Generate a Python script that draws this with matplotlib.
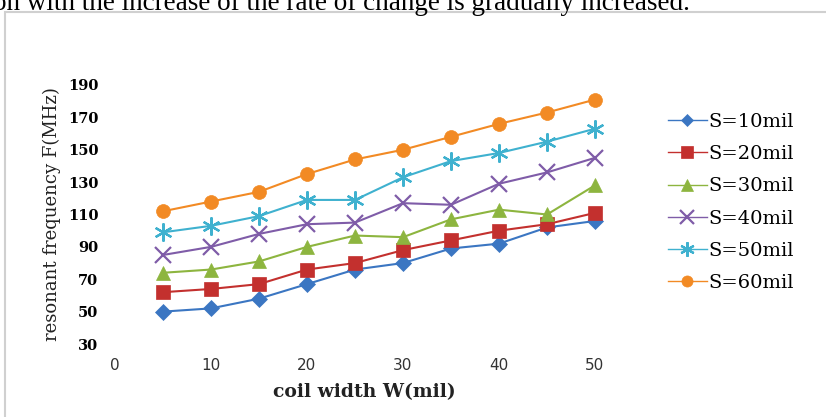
import matplotlib
matplotlib.use("Agg")
from matplotlib import pyplot as plt
from matplotlib.patches import Rectangle

width = [5, 10, 15, 20, 25, 30, 35, 40, 45, 50]

s10 = [50, 52, 58, 67, 76, 80, 89, 92, 102, 106]
s20 = [62, 64, 67, 76, 80, 88, 94, 100, 104, 111]
s30 = [74, 76, 81, 90, 97, 96, 107, 113, 110, 128]
s40 = [85, 90, 98, 104, 105, 117, 116, 129, 136, 145]
s50 = [99, 103, 109, 119, 119, 133, 143, 148, 155, 163]
s60 = [112, 118, 124, 135, 144, 150, 158, 166, 173, 181]

labels = ["S=10mil", "S=20mil", "S=30mil", "S=40mil", "S=50mil", "S=60mil"]
series = [s10, s20, s30, s40, s50, s60]
colors = ["#3b76c2", "#c3302e", "#8db53f", "#7f5ca8", "#3fb1cf", "#f28a24"]
markers = ["D", "s", "^", "x", (6, 2, 0), "o"]
msizes = [8, 10, 10, 12, 13, 10]

fig = plt.figure(figsize=(8.26, 4.17), dpi=100)

# frame of the embedded chart and the cut-off caption line above it
fig.patches.append(Rectangle((5 / 826, -0.1), 1.0, 1 - 12 / 417 + 0.1,
                             transform=fig.transFigure, fill=False,
                             edgecolor="#d0d0d0", linewidth=1.5))
fig.text(-0.008, 1 - 9.5 / 417,
         "on with the increase of the rate of change is gradually increased.",
         family="Liberation Serif", fontsize=19.5, va="baseline", ha="left")

ax = fig.add_axes([115 / 826, 73 / 417, (9.6 * 52) / 826, (344 - 85) / 417])

for ys, lab, c, m, ms in zip(series, labels, colors, markers, msizes):
    ax.plot(width, ys, color=c, marker=m, markersize=ms, linewidth=1.5,
            markeredgewidth=1.6 if m in ("x", (6, 2, 0)) else 0.5,
            markeredgecolor=c, label=lab)

ax.set_xlim(0, 52)
ax.set_ylim(30, 190)
ax.set_xticks([0, 10, 20, 30, 40, 50])
ax.set_yticks(range(30, 191, 20))
for s in ax.spines.values():
    s.set_visible(False)
ax.tick_params(length=0)
ax.tick_params(axis="x", pad=10, labelsize=11, labelcolor="#333333")
ax.tick_params(axis="y", pad=12, labelsize=11)
for t in ax.get_yticklabels():
    t.set_family("DejaVu Serif")
    t.set_fontweight("bold")
    t.set_fontsize(10.5)

ax.set_xlabel("coil width W(mil)", family="DejaVu Serif", fontweight="bold",
              fontsize=13.5, labelpad=7, color="#222222")
ax.set_ylabel("resonant frequency F(MHz)", family="DejaVu Serif",
              fontsize=13, labelpad=5, color="#222222")

leg = fig.legend(loc="upper left", bbox_to_anchor=(668 / 826, 1 - 113 / 417),
                 frameon=False, prop={"family": "DejaVu Serif", "size": 14},
                 handlelength=2.0, labelspacing=0.73, handletextpad=0.1,
                 borderpad=0, borderaxespad=0, markerscale=0.8)
for line in leg.get_lines():
    line.set_linewidth(1.0)

fig.savefig("out.png", dpi=100)
